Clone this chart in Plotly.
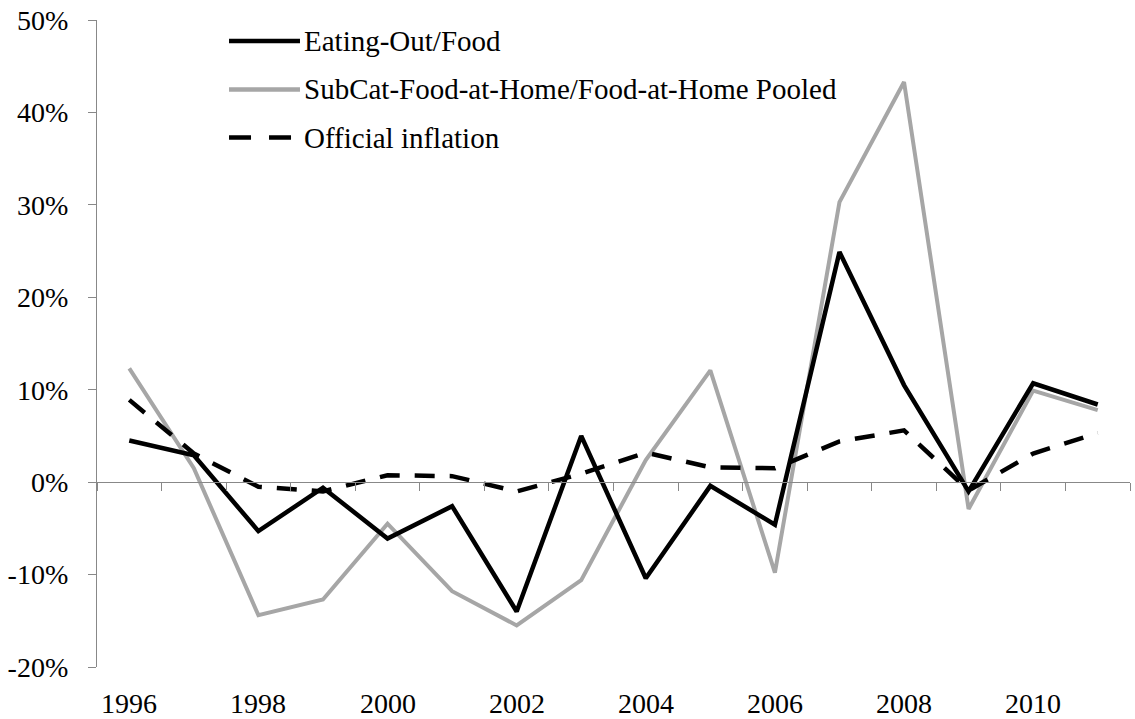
import plotly.graph_objects as go

years = list(range(1996, 2012))

eating_out = [4.5, 2.9, -5.3, -0.6, -6.1, -2.6, -14.0, 5.0, -10.4, -0.4, -4.6, 24.9, 10.5, -1.0, 10.7, 8.4]
food_at_home = [12.3, 1.5, -14.4, -12.7, -4.5, -11.8, -15.5, -10.6, 2.4, 12.1, -9.8, 30.3, 43.3, -2.9, 9.9, 7.8]
official_inflation = [8.9, 3.1, -0.5, -1.0, 0.75, 0.65, -1.0, 0.9, 3.2, 1.6, 1.5, 4.4, 5.6, -0.9, 3.1, 5.3]

series_names = ["Eating-Out/Food", "SubCat-Food-at-Home/Food-at-Home Pooled", "Official inflation"]

y_ticks = [-20, -10, 0, 10, 20, 30, 40, 50]
y_labels = ["-20%", "-10%", "0%", "10%", "20%", "30%", "40%", "50%"]
x_label_years = [1996, 1998, 2000, 2002, 2004, 2006, 2008, 2010]

FONT = "Liberation Serif"
GRAY = "#A6A6A6"
AXIS = "#888888"
DASH = "20px,15px"

fig = go.Figure()

# gray under black, dashed on top
fig.add_trace(go.Scatter(x=years, y=food_at_home, mode="lines", name=series_names[1],
                         line=dict(color=GRAY, width=4), xaxis="x2"))
fig.add_trace(go.Scatter(x=years, y=eating_out, mode="lines", name=series_names[0],
                         line=dict(color="black", width=4.5), xaxis="x2"))
fig.add_trace(go.Scatter(x=years, y=official_inflation, mode="lines", name=series_names[2],
                         line=dict(color="black", width=4.5, dash=DASH), xaxis="x2"))

x_range = [years[0] - 0.5, years[-1] + 0.5]
y_range = [y_ticks[0], y_ticks[-1]]

fig.update_layout(
    width=1135, height=719,
    margin=dict(l=97, r=5, t=18, b=52),
    paper_bgcolor="white", plot_bgcolor="white",
    font=dict(family=FONT, size=28, color="black"),
    showlegend=False,
    xaxis=dict(range=x_range, showticklabels=False,
               showline=False, showgrid=False, zeroline=False, ticks=""),
    xaxis2=dict(range=x_range, overlaying="x", anchor="free",
                position=(0 - y_range[0]) / (y_range[1] - y_range[0]), side="bottom",
                tickvals=[v + 0.5 for v in [years[0] - 1] + years],
                showticklabels=False, ticks="outside", ticklen=8, tickwidth=1.3,
                tickcolor=AXIS, showline=True, linecolor=AXIS, linewidth=1.3,
                showgrid=False, zeroline=False),
    yaxis=dict(range=y_range, tickvals=y_ticks, ticktext=y_labels,
               showline=True, linecolor=AXIS, linewidth=1.3,
               ticks="outside", ticklen=8, tickwidth=1.3, tickcolor=AXIS,
               showgrid=False, zeroline=False, ticklabelstandoff=14),
)

# year labels along the bottom edge (tick labels there kept getting dropped)
for yr in x_label_years:
    fig.add_annotation(xref="x", yref="paper", x=yr, y=-0.057, text=str(yr), showarrow=False,
                       xanchor="center", yanchor="middle", font=dict(family=FONT, size=28))

# legend drawn by hand to get the long line samples
legend_y = [0.9676, 0.8926, 0.8182]
legend_styles = [dict(color="black", width=4.5),
                 dict(color=GRAY, width=4.5),
                 dict(color="black", width=4.5, dash="22px,18px")]
for name, ly, st in zip(series_names, legend_y, legend_styles):
    fig.add_shape(type="line", xref="paper", yref="paper", x0=0.1278, x1=0.1965, y0=ly, y1=ly,
                  line=st)
    fig.add_annotation(xref="paper", yref="paper", x=0.1985, y=ly, text=name, showarrow=False,
                       xanchor="left", yanchor="middle", font=dict(family=FONT, size=29))

# page body has a default 8px margin; drop it so the figure fills the window
fig.write_html("out.html", config={"displayModeBar": False},
               post_script="document.body.style.margin='0';")
